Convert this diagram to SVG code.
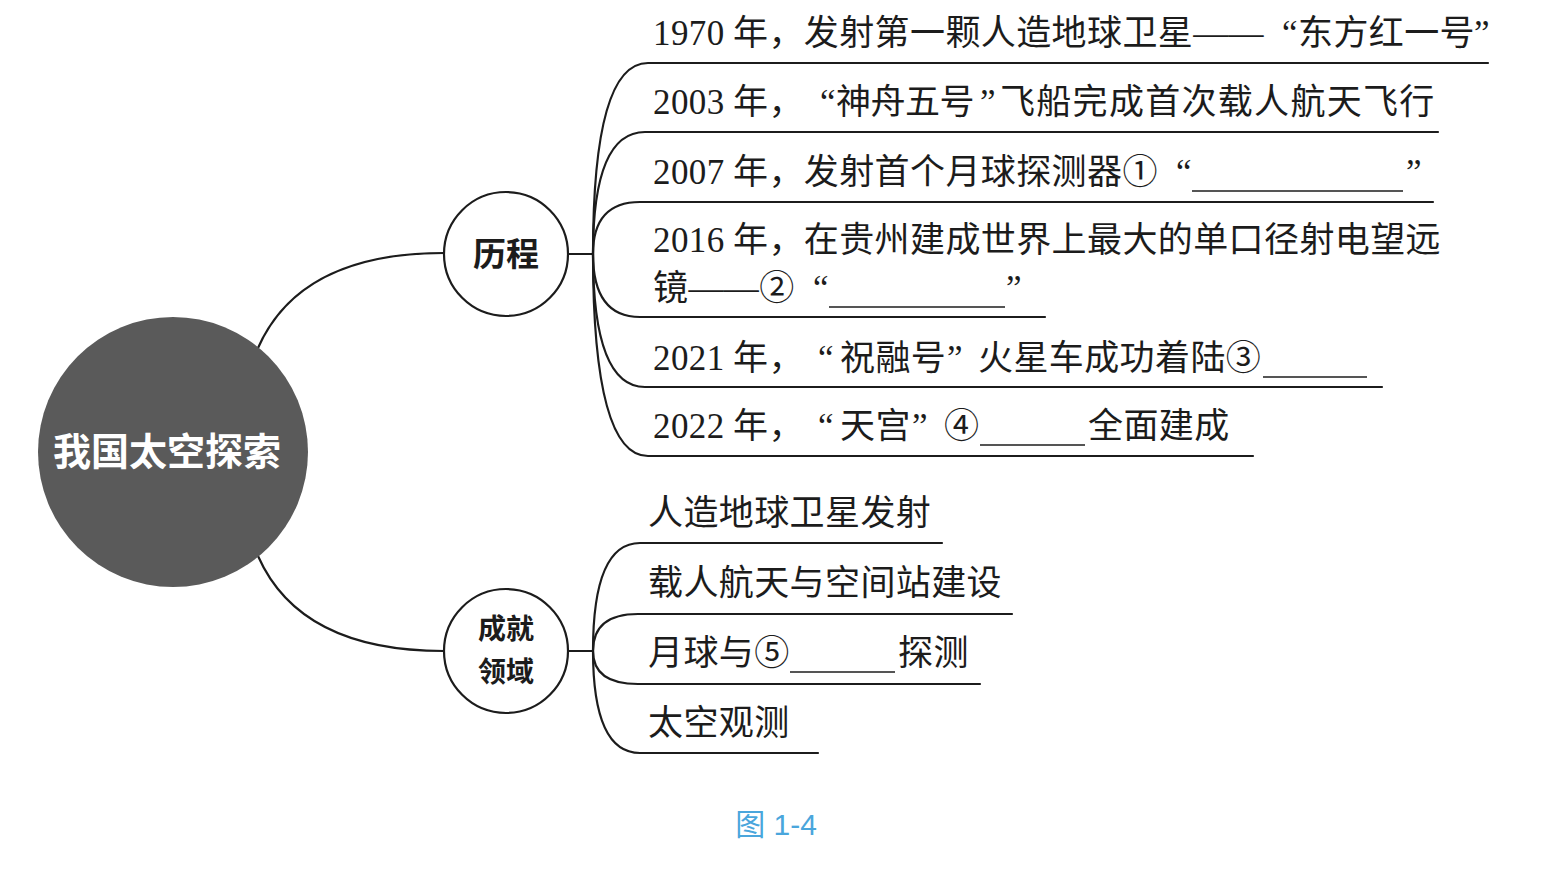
<svg xmlns="http://www.w3.org/2000/svg" width="1565" height="870" viewBox="0 0 1565 870">
<style>
.ln{fill:none;stroke:#1c1c1c;stroke-width:2.2;stroke-linecap:round}
.bl{fill:none;stroke:#1c1c1c;stroke-width:1.6}
.t{font-family:"Liberation Serif","Noto Sans CJK SC",serif;font-size:35px;fill:#1c1c1c;letter-spacing:0.4px}
.h{font-family:"Noto Sans CJK SC","Noto Sans CJK TC",sans-serif;font-weight:700;fill:#1c1c1c;text-anchor:middle}
.cap{font-family:"Liberation Sans","Noto Sans CJK SC",sans-serif;font-size:30px;fill:#4aa6dc;text-anchor:middle}
</style>
<rect width="1565" height="870" fill="#ffffff"/>
<g id="connectors">
<path class="ln" d="M258,348 Q300,253 444,253"/>
<path class="ln" d="M258,556 Q300,651 444,651"/>
<path class="ln" d="M568,254 H593"/>
<path class="ln" d="M568,651 H593"/>
<path class="ln" d="M593,254 Q593,63 648,63 H1488"/>
<path class="ln" d="M593,254 Q593,132 645,132 H1438"/>
<path class="ln" d="M593,254 Q593,202 640,202 H1433"/>
<path class="ln" d="M593,254 Q593,317 640,317 H1045"/>
<path class="ln" d="M593,254 Q593,387 645,387 H1382"/>
<path class="ln" d="M593,254 Q593,456 648,456 H1253"/>
<path class="ln" d="M593,651 Q593,543 640,543 H942"/>
<path class="ln" d="M593,651 Q593,614 638,614 H1012"/>
<path class="ln" d="M593,651 Q593,684 638,684 H980"/>
<path class="ln" d="M593,651 Q593,753 640,753 H818"/>
</g>
<g id="root">
<circle cx="173" cy="452" r="135" fill="#5a5a5a"/>
<text class="h" x="167" y="465" font-size="38" style="fill:#ffffff;font-weight:600">我国太空探索</text>
</g>
<g id="licheng">
<circle cx="506" cy="254" r="62" fill="#ffffff" stroke="#1c1c1c" stroke-width="2.2"/>
<text class="h" x="506" y="266" font-size="33">历程</text>
</g>
<g id="chengjiu">
<circle cx="506" cy="651" r="62" fill="#ffffff" stroke="#1c1c1c" stroke-width="2.2"/>
<text class="h" x="506" y="639" font-size="28">成就</text>
<text class="h" x="506" y="682" font-size="28">领域</text>
</g>
<g id="item1970">
<text class="t" y="45"><tspan x="653">1970</tspan><tspan x="733">年，发射第一颗人造地球卫星——</tspan><tspan x="1282">“</tspan><tspan x="1298">东方红一号</tspan><tspan x="1474">”</tspan></text>
</g>
<g id="item2003">
<text class="t" y="114"><tspan x="653">2003</tspan><tspan x="733">年，</tspan><tspan x="820">“</tspan><tspan x="836" letter-spacing="-0.5">神舟五号</tspan><tspan x="980">”</tspan><tspan x="1000" letter-spacing="1.3">飞船完成首次载人航天飞行</tspan></text>
</g>
<g id="item2007">
<text class="t" y="184"><tspan x="653">2007</tspan><tspan x="733">年，发射首个月球探测器①</tspan><tspan x="1176">“</tspan><tspan x="1406">”</tspan></text>
<line class="bl" x1="1192" y1="191" x2="1403" y2="191"/>
</g>
<g id="item2016">
<text class="t" y="252"><tspan x="653">2016</tspan><tspan x="733">年，在贵州建成世界上最大的单口径射电望远</tspan></text>
<text class="t" y="300"><tspan x="653">镜——②</tspan><tspan x="813">“</tspan><tspan x="1006">”</tspan></text>
<line class="bl" x1="829" y1="307" x2="1005" y2="307"/>
</g>
<g id="item2021">
<text class="t" y="370"><tspan x="653">2021</tspan><tspan x="733">年，</tspan><tspan x="818">“</tspan><tspan x="840">祝融号</tspan><tspan x="947">”</tspan><tspan x="978">火星车成功着陆③</tspan></text>
<line class="bl" x1="1263" y1="377" x2="1367" y2="377"/>
</g>
<g id="item2022">
<text class="t" y="438"><tspan x="653">2022</tspan><tspan x="733">年，</tspan><tspan x="818">“</tspan><tspan x="840">天宫</tspan><tspan x="912">”</tspan><tspan x="944">④</tspan><tspan x="1088">全面建成</tspan></text>
<line class="bl" x1="980" y1="445" x2="1085" y2="445"/>
</g>
<g id="field1">
<text class="t" x="648" y="525">人造地球卫星发射</text>
</g>
<g id="field2">
<text class="t" x="648" y="595">载人航天与空间站建设</text>
</g>
<g id="field3">
<text class="t" y="665"><tspan x="648">月球与⑤</tspan><tspan x="898">探测</tspan></text>
<line class="bl" x1="790" y1="672" x2="895" y2="672"/>
</g>
<g id="field4">
<text class="t" x="648" y="735">太空观测</text>
</g>
<text class="cap" x="776" y="835">图 1-4</text>
</svg>
